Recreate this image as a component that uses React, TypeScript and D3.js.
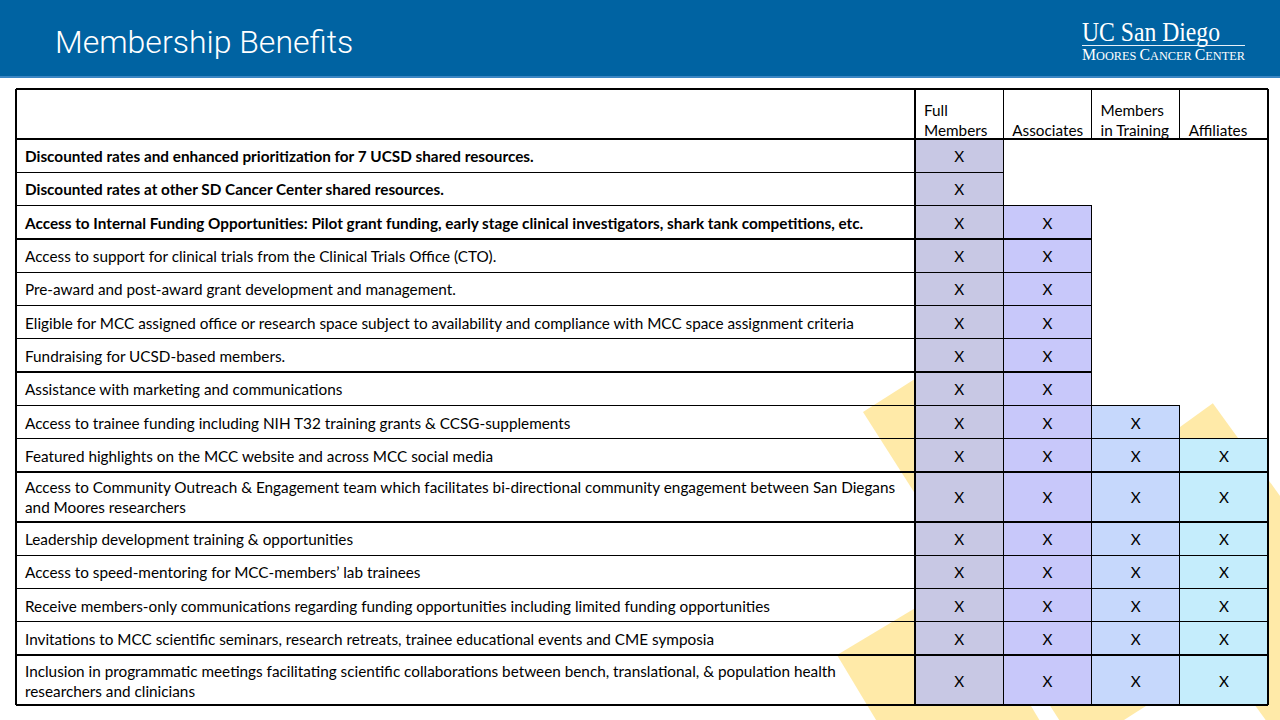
import React, { useEffect, useRef } from 'react';
import * as d3 from 'd3';

const WIDTH = 1280;
const HEIGHT = 720;

const titleText = 'Membership Benefits';
const logoMain = 'UC San Diego';
const logoSubParts = [['M', 'OORES '], ['C', 'ANCER '], ['C', 'ENTER']];

const tierLabels: string[][] = [['Full', 'Members'], ['Associates'], ['Members', 'in Training'], ['Affiliates']];
const tierFills = ['#C8C8E4', '#C8C8FA', '#C6D8FC', '#C5EDFC'];

const benefitLines: string[][] = [
  ['Discounted rates and enhanced prioritization for 7 UCSD shared resources.'],
  ['Discounted rates at other SD Cancer Center shared resources.'],
  ['Access to Internal Funding Opportunities: Pilot grant funding, early stage clinical investigators, shark tank competitions, etc.'],
  ['Access to support for clinical trials from the Clinical Trials Office (CTO).'],
  ['Pre-award and post-award grant development and management.'],
  ['Eligible for MCC assigned office or research space subject to availability and compliance with MCC space assignment criteria'],
  ['Fundraising for UCSD-based members.'],
  ['Assistance with marketing and communications'],
  ['Access to trainee funding including NIH T32 training grants & CCSG-supplements'],
  ['Featured highlights on the MCC website and across MCC social media'],
  ['Access to Community Outreach & Engagement team which facilitates bi-directional community engagement between San Diegans', 'and Moores researchers'],
  ['Leadership development training & opportunities'],
  ['Access to speed-mentoring for MCC-members\u2019 lab trainees'],
  ['Receive members-only communications regarding funding opportunities including limited funding opportunities'],
  ['Invitations to MCC scientific seminars, research retreats, trainee educational events and CME symposia'],
  ['Inclusion in programmatic meetings facilitating scientific collaborations between bench, translational, & population health', 'researchers and clinicians'],
];
const benefitBold = [true, true, true, false, false, false, false, false, false, false, false, false, false, false, false, false];
const tiersEligible = [1, 1, 2, 2, 2, 2, 2, 2, 3, 4, 4, 4, 4, 4, 4, 4];
const markLabel = 'X';

// decorative background stripes: corner, angle of first side (deg), side lengths
const stripes = [
  { x: 863, y: 412, angle: -32.5, len: 155, depth: 400 },
  { x: 837, y: 655, angle: -31, len: 140, depth: 200 },
  { x: 1097, y: 487, angle: -35.9, len: 143, depth: 500 },
];

export default function App() {
  const ref = useRef<SVGSVGElement | null>(null);

  useEffect(() => {
    const svg = d3.select(ref.current!);
    svg.selectAll('*').remove();

    const bodyFont = 'Lato';
    const bodySize = 15.3;

    svg.append('rect').attr('width', WIDTH).attr('height', HEIGHT).attr('fill', '#FFFFFF');

    // stripes
    const gStripes = svg.append('g');
    stripes.forEach((s) => {
      const a = (s.angle * Math.PI) / 180;
      const b = a + Math.PI / 2;
      const p = d3.path();
      p.moveTo(s.x, s.y);
      p.lineTo(s.x + s.len * Math.cos(a), s.y + s.len * Math.sin(a));
      p.lineTo(s.x + s.len * Math.cos(a) + s.depth * Math.cos(b), s.y + s.len * Math.sin(a) + s.depth * Math.sin(b));
      p.lineTo(s.x + s.depth * Math.cos(b), s.y + s.depth * Math.sin(b));
      p.closePath();
      gStripes.append('path').attr('d', p.toString()).attr('fill', '#FFEAA8');
    });

    // header bar
    svg.append('rect').attr('x', 0).attr('y', 0).attr('width', WIDTH).attr('height', 77).attr('fill', '#0063A2');
    svg.append('rect').attr('x', 0).attr('y', 76).attr('width', WIDTH).attr('height', 2).attr('fill', '#3A86C4');
    svg.append('text').attr('x', 55).attr('y', 53).attr('fill', '#FFFFFF')
      .attr('font-family', 'Roboto').attr('font-weight', 300).attr('font-size', 32).text(titleText);

    // logo
    svg.append('text').attr('x', 1082).attr('y', 41).attr('fill', '#FFFFFF')
      .attr('font-family', 'Liberation Serif').attr('font-size', 27)
      .attr('textLength', 138).attr('lengthAdjust', 'spacingAndGlyphs').text(logoMain);
    svg.append('line').attr('x1', 1082).attr('x2', 1245).attr('y1', 45.5).attr('y2', 45.5)
      .attr('stroke', '#E8F0F8').attr('stroke-width', 1);
    const sub = svg.append('text').attr('x', 1082).attr('y', 60).attr('fill', '#FFFFFF')
      .attr('font-family', 'Liberation Serif').attr('textLength', 163).attr('lengthAdjust', 'spacingAndGlyphs');
    logoSubParts.forEach(([big, small]) => {
      sub.append('tspan').attr('font-size', 16).text(big);
      sub.append('tspan').attr('font-size', 12.5).text(small);
    });

    // table geometry
    const tableLeft = 16, textRight = 915, tableRight = 1268;
    const tableTop = 89, headTop = 139, tableBottom = 705;
    const x = d3.scaleBand<number>().domain(d3.range(tierLabels.length)).range([textRight, tableRight]);
    const bw = x.bandwidth();
    const units = benefitLines.map((l) => (l.length > 1 ? 1.5 : 1));
    const cum = [0, ...Array.from(d3.cumsum(units))];
    const y = d3.scaleLinear().domain([0, d3.sum(units)]).range([headTop, tableBottom]);

    // fills
    const gFill = svg.append('g');
    benefitLines.forEach((_, r) => {
      for (let c = 0; c < tiersEligible[r]; c++) {
        gFill.append('rect').attr('x', x(c)!).attr('y', y(cum[r]))
          .attr('width', bw).attr('height', y(cum[r + 1]) - y(cum[r])).attr('fill', tierFills[c]);
      }
    });

    // lines
    const gLines = svg.append('g').attr('stroke', '#000').attr('stroke-width', 1.3).attr('shape-rendering', 'crispEdges');
    const hl = (x1: number, x2: number, yy: number) => gLines.append('line').attr('x1', x1).attr('x2', x2).attr('y1', yy).attr('y2', yy);
    const vl = (xx: number, y1: number, y2: number) => gLines.append('line').attr('x1', xx).attr('x2', xx).attr('y1', y1).attr('y2', y2);
    hl(tableLeft, tableRight, tableTop);
    hl(tableLeft, tableRight, headTop);
    hl(tableLeft, tableRight, tableBottom);
    vl(tableLeft, tableTop, tableBottom);
    vl(tableRight, tableTop, tableBottom);
    vl(textRight, tableTop, tableBottom);
    tierLabels.forEach((_, c) => vl(x(c)! + bw, tableTop, headTop));
    benefitLines.forEach((_, r) => {
      if (r < benefitLines.length - 1) {
        const n = Math.max(tiersEligible[r], tiersEligible[r + 1]);
        hl(tableLeft, textRight + n * bw, y(cum[r + 1]));
      }
      for (let c = 0; c < tiersEligible[r]; c++) vl(x(c)! + bw, y(cum[r]), y(cum[r + 1]));
    });

    // header labels
    const gText = svg.append('g').attr('font-family', bodyFont).attr('font-size', bodySize).attr('fill', '#000');
    tierLabels.forEach((lines, c) => {
      lines.forEach((t, i) => {
        gText.append('text').attr('x', x(c)! + 9).attr('y', 135.5 - (lines.length - 1 - i) * 20).text(t);
      });
    });

    // rows
    benefitLines.forEach((lines, r) => {
      const mid = (y(cum[r]) + y(cum[r + 1])) / 2 + 1.2;
      lines.forEach((t, i) => {
        gText.append('text').attr('x', 25).attr('y', mid - (lines.length - 1) * 10 + i * 20 + 5.3)
          .attr('font-weight', benefitBold[r] ? 700 : 400).text(t);
      });
      for (let c = 0; c < tiersEligible[r]; c++) {
        gText.append('text').attr('x', x(c)! + bw / 2).attr('y', mid + 5.3).attr('text-anchor', 'middle').text(markLabel);
      }
    });
  }, []);

  return (
    <svg ref={ref} width={WIDTH} height={HEIGHT} style={{ position: 'absolute', left: 0, top: 0 }} />
  );
}
